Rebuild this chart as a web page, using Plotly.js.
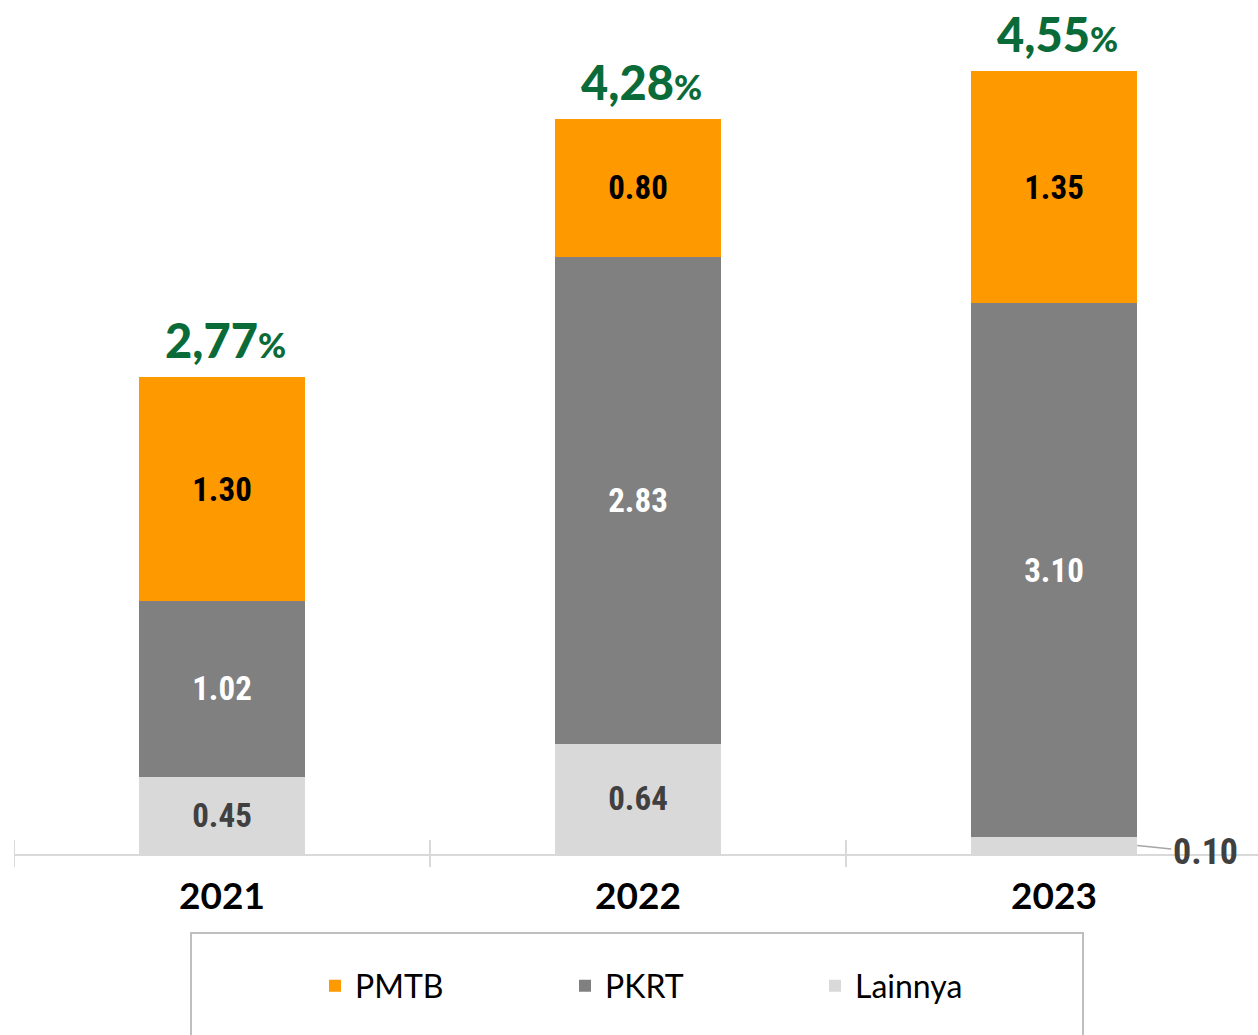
<!DOCTYPE html>
<html>
<head>
<meta charset="utf-8">
<script src="https://cdn.plot.ly/plotly-3.0.1.min.js"></script>
<style>html,body{margin:0;padding:0;background:#fff;}#chart{width:1258px;height:1035px;}</style>
</head>
<body>
<div id="chart"></div>
<script>
const categories = ['2021', '2022', '2023'];
const lainnya = [0.45, 0.64, 0.10];
const pkrt = [1.02, 2.83, 3.10];
const pmtb = [1.30, 0.80, 1.35];
const totals = [2.77, 4.28, 4.55];
const seriesNames = ['Lainnya', 'PKRT', 'PMTB'];

const colors = {Lainnya: '#D9D9D9', PKRT: '#808080', PMTB: '#FF9900'};
const textColors = {Lainnya: '#404040', PKRT: '#FFFFFF', PMTB: '#000000'};
const narrow = '"Liberation Sans Narrow", "Roboto Condensed", "Arial Narrow", sans-serif';
const MIN_INSIDE = 0.2;
const BAR_W = 0.4;

const seriesValues = {Lainnya: lainnya, PKRT: pkrt, PMTB: pmtb};

const traces = seriesNames.map(name => {
  const vals = seriesValues[name];
  return {
    type: 'bar',
    name: name,
    x: categories,
    y: vals,
    width: BAR_W,
    marker: {color: colors[name], line: {width: 0}},
    text: vals.map(v => v >= MIN_INSIDE ? v.toFixed(2) : ''),
    textposition: 'inside',
    insidetextanchor: 'middle',
    textangle: 0,
    constraintext: 'none',
    textfont: {family: narrow, size: 33, color: textColors[name], weight: 'bold'},
    hoverinfo: 'skip'
  };
});

const annotations = [];
// totals on top
categories.forEach((c, i) => {
  const stackTop = lainnya[i] + pkrt[i] + pmtb[i];
  const lbl = totals[i].toFixed(2).replace('.', ',');
  annotations.push({
    x: i, y: stackTop, xref: 'x', yref: 'y',
    text: lbl + '<span style="font-size:34px">%</span>',
    showarrow: false, yanchor: 'bottom', xanchor: 'center', yshift: 7, xshift: 3,
    font: {family: 'Lato, sans-serif', size: 47, color: '#0B6B38', weight: 900}
  });
});
// small values with leader line
seriesNames.forEach(name => {
  const vals = seriesValues[name];
  vals.forEach((v, i) => {
    if (v < MIN_INSIDE) {
      let base = 0;
      for (const n of seriesNames) { if (n === name) break; base += seriesValues[n][i]; }
      annotations.push({
        x: i + BAR_W / 2, y: base + v / 2, xref: 'x', yref: 'y',
        text: v.toFixed(2),
        showarrow: true, arrowhead: 0, arrowwidth: 1.5, arrowcolor: '#A6A6A6',
        ax: 68, ay: 7, standoff: 0,
        font: {family: narrow, size: 36, color: '#404040', weight: 'bold'}
      });
    }
  });
});

const plotH = 854, plotW = 1244, pxPerUnit = 172.1, pxPerCat = 416;
const shapes = [];
for (let i = 0; i <= categories.length; i++) {
  const bx = i - 0.5;
  if (bx <= -0.5 + plotW / pxPerCat) {
    shapes.push({type: 'line', xref: 'x', yref: 'paper', x0: bx, x1: bx,
      y0: -13 / plotH, y1: 14 / plotH, line: {color: '#D9D9D9', width: 2}});
  }
}
// legend box
shapes.push({type: 'rect', xref: 'paper', yref: 'paper',
  x0: (191 - 14) / plotW, x1: (1083 - 14) / plotW,
  y0: (plotH - 1045) / plotH, y1: (plotH - 933) / plotH,
  line: {color: '#BFBFBF', width: 2}, fillcolor: 'rgba(0,0,0,0)'});

const layout = {
  width: 1258, height: 1035,
  margin: {l: 14, r: 0, t: 0, b: 1035 - plotH, pad: 0},
  paper_bgcolor: '#FFFFFF', plot_bgcolor: '#FFFFFF',
  barmode: 'stack',
  showlegend: true,
  hovermode: false,
  xaxis: {
    type: 'category',
    range: [-0.5, -0.5 + plotW / pxPerCat],
    showline: true, linecolor: '#D9D9D9', linewidth: 2,
    ticks: '', showgrid: false, zeroline: false,
    tickfont: {family: 'Lato, sans-serif', size: 37, color: '#000000', weight: 'bold'},
    ticklabelstandoff: 9,
    fixedrange: true
  },
  yaxis: {
    visible: false,
    range: [0, plotH / pxPerUnit],
    fixedrange: true
  },
  legend: {
    orientation: 'h', traceorder: 'reversed',
    x: (690 - 14) / plotW, xanchor: 'center',
    y: (plotH - 986) / plotH, yanchor: 'middle',
    font: {family: 'Lato, sans-serif', size: 32, color: '#000000'},
    entrywidth: 205, entrywidthmode: 'pixels',
    bgcolor: 'rgba(0,0,0,0)', borderwidth: 0
  },
  annotations: annotations,
  shapes: shapes
};

Plotly.newPlot('chart', traces, layout, {displayModeBar: false, staticPlot: true});
</script>
</body>
</html>
